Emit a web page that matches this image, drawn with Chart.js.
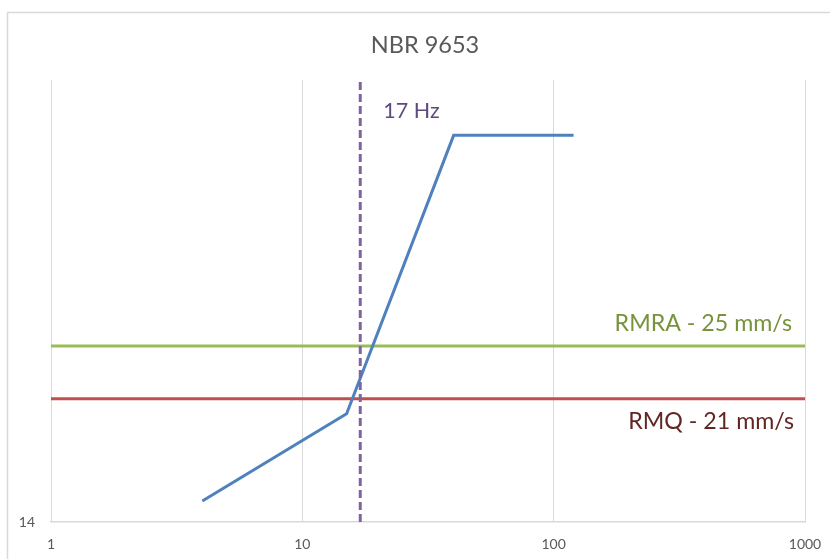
<!DOCTYPE html>
<html>
<head>
<meta charset="utf-8">
<script src="https://cdn.jsdelivr.net/npm/chart.js@4"></script>
<style>
  html, body { margin: 0; padding: 0; background: #fff; }
  #wrap { width: 830px; height: 559px; position: relative; }
</style>
</head>
<body>
<div id="wrap"><canvas id="chart"></canvas></div>
<script>
// NBR 9653 limit curve (frequency in Hz, peak particle velocity in mm/s)
const curveFreq = [4, 15, 40, 120];
const curveVel = [15, 20, 50, 50];

const rmraLimit = 25;
const rmqLimit = 21;
const cutFreq = 17;

const xTicks = [1, 10, 100, 1000];
const yTicks = [14];
const yMax = 60;

const titleText = "NBR 9653";
const rmraLabel = "RMRA - 25 mm/s";
const rmqLabel = "RMQ - 21 mm/s";
const cutLabel = "17 Hz";

const FONT = "Lato, 'Open Sans', sans-serif";

const xMin = xTicks[0];
const xMax = xTicks[xTicks.length - 1];
const yMin = yTicks[0];

const toPoints = (xs, ys) => xs.map((x, i) => ({ x: x, y: ys[i] }));

// frame, title and free text labels
const decorPlugin = {
  id: "decor",
  beforeDraw(chart) {
    const ctx = chart.ctx;
    ctx.save();
    ctx.strokeStyle = "#d9d9d9";
    ctx.lineWidth = 1.5;
    ctx.beginPath();
    ctx.moveTo(7.5, chart.height);
    ctx.lineTo(7.5, 12.5);
    ctx.lineTo(chart.width, 12.5);
    ctx.stroke();

    ctx.fillStyle = "#595959";
    ctx.font = "23.5px " + FONT;
    ctx.textAlign = "center";
    ctx.textBaseline = "middle";
    ctx.fillText(titleText, (chart.width + 20) / 2, 45);
    ctx.restore();
  },
  afterDatasetsDraw(chart) {
    const ctx = chart.ctx;
    const xs = chart.scales.x;
    const ys = chart.scales.y;
    ctx.save();
    ctx.textBaseline = "middle";

    ctx.font = "21.5px " + FONT;
    ctx.fillStyle = "#604a7b";
    ctx.textAlign = "left";
    ctx.fillText(cutLabel, xs.getPixelForValue(cutFreq) + 23, ys.getPixelForValue(curveVel[2]) - 24);

    ctx.font = "23.2px " + FONT;
    ctx.textAlign = "right";
    ctx.fillStyle = "#77933c";
    ctx.fillText(rmraLabel, xs.getPixelForValue(xMax) - 13, ys.getPixelForValue(rmraLimit) - 22);

    ctx.fillStyle = "#632523";
    ctx.fillText(rmqLabel, xs.getPixelForValue(xMax) - 11, ys.getPixelForValue(rmqLimit) + 23);
    ctx.restore();
  },
};

new Chart(document.getElementById("chart"), {
  type: "scatter",
  data: {
    datasets: [
      {
        label: "17 Hz",
        data: toPoints([cutFreq, cutFreq], [yMin, yMax]),
        showLine: true,
        borderColor: "#8064a2",
        borderWidth: 3,
        borderDash: [8, 4],
        pointRadius: 0,
        order: 0,
      },
      {
        label: "NBR 9653",
        data: toPoints(curveFreq, curveVel),
        showLine: true,
        borderColor: "#4f81bd",
        borderWidth: 3,
        pointRadius: 0,
        order: 1,
      },
      {
        label: "RMRA",
        data: toPoints([xMin, xMax], [rmraLimit, rmraLimit]),
        showLine: true,
        borderColor: "#9bbb59",
        borderWidth: 3,
        pointRadius: 0,
        order: 2,
      },
      {
        label: "RMQ",
        data: toPoints([xMin, xMax], [rmqLimit, rmqLimit]),
        showLine: true,
        borderColor: "#c0504d",
        borderWidth: 3,
        pointRadius: 0,
        order: 3,
      },
    ],
  },
  options: {
    responsive: true,
    maintainAspectRatio: false,
    animation: false,
    layout: { padding: { left: 0, right: 25, top: 80, bottom: 0 } },
    plugins: {
      legend: { display: false },
      tooltip: { enabled: false },
      title: { display: false },
    },
    scales: {
      x: {
        type: "logarithmic",
        min: xMin,
        max: xMax,
        afterBuildTicks: (scale) => {
          scale.ticks = xTicks.map((v) => ({ value: v }));
        },
        afterFit: (scale) => {
          scale.height = 37;
          scale.paddingRight = 0;
          scale.paddingLeft = 0;
        },
        grid: { color: "#d9d9d9", lineWidth: 1, drawTicks: false },
        border: { color: "#d9d9d9", width: 1.5 },
        ticks: {
          autoSkip: false,
          maxRotation: 0,
          padding: 14,
          color: "#595959",
          font: { family: FONT, size: 14 },
          callback: (v) => String(v),
        },
      },
      y: {
        type: "logarithmic",
        min: yMin,
        max: yMax,
        afterBuildTicks: (scale) => {
          scale.ticks = yTicks.map((v) => ({ value: v }));
        },
        afterFit: (scale) => {
          scale.width = 51;
        },
        grid: { display: false, drawTicks: false },
        border: { display: false },
        ticks: {
          padding: 16,
          color: "#595959",
          font: { family: FONT, size: 14 },
          callback: (v) => String(v),
        },
      },
    },
  },
  plugins: [decorPlugin],
});
</script>
</body>
</html>
